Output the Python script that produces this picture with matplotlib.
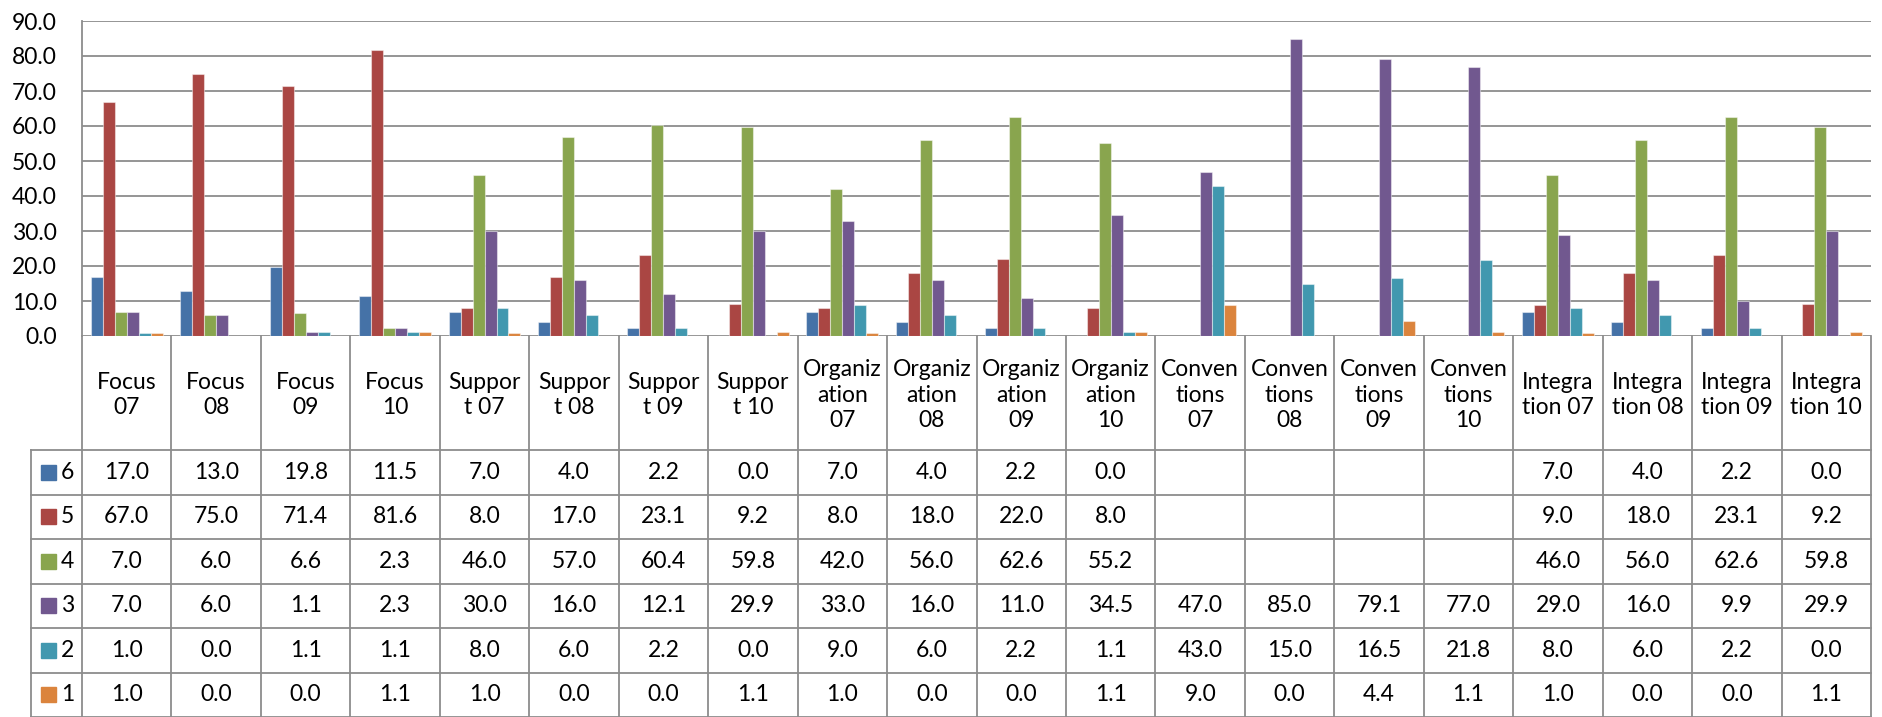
import numpy as np
import matplotlib
matplotlib.use("Agg")
from matplotlib import pyplot as plt
from matplotlib.patches import Rectangle

plt.rcParams['font.family'] = ['Lato', 'DejaVu Sans']

nan = np.nan
categories = ["Focus\n07", "Focus\n08", "Focus\n09", "Focus\n10",
              "Suppor\nt 07", "Suppor\nt 08", "Suppor\nt 09", "Suppor\nt 10",
              "Organiz\nation\n07", "Organiz\nation\n08", "Organiz\nation\n09", "Organiz\nation\n10",
              "Conven\ntions\n07", "Conven\ntions\n08", "Conven\ntions\n09", "Conven\ntions\n10",
              "Integra\ntion 07", "Integra\ntion 08", "Integra\ntion 09", "Integra\ntion 10"]
series_names = ["6", "5", "4", "3", "2", "1"]
s6 = [17.0, 13.0, 19.8, 11.5, 7.0, 4.0, 2.2, 0.0, 7.0, 4.0, 2.2, 0.0, nan, nan, nan, nan, 7.0, 4.0, 2.2, 0.0]
s5 = [67.0, 75.0, 71.4, 81.6, 8.0, 17.0, 23.1, 9.2, 8.0, 18.0, 22.0, 8.0, nan, nan, nan, nan, 9.0, 18.0, 23.1, 9.2]
s4 = [7.0, 6.0, 6.6, 2.3, 46.0, 57.0, 60.4, 59.8, 42.0, 56.0, 62.6, 55.2, nan, nan, nan, nan, 46.0, 56.0, 62.6, 59.8]
s3 = [7.0, 6.0, 1.1, 2.3, 30.0, 16.0, 12.1, 29.9, 33.0, 16.0, 11.0, 34.5, 47.0, 85.0, 79.1, 77.0, 29.0, 16.0, 9.9, 29.9]
s2 = [1.0, 0.0, 1.1, 1.1, 8.0, 6.0, 2.2, 0.0, 9.0, 6.0, 2.2, 1.1, 43.0, 15.0, 16.5, 21.8, 8.0, 6.0, 2.2, 0.0]
s1 = [1.0, 0.0, 0.0, 1.1, 1.0, 0.0, 0.0, 1.1, 1.0, 0.0, 0.0, 1.1, 9.0, 0.0, 4.4, 1.1, 1.0, 0.0, 0.0, 1.1]
series = [s6, s5, s4, s3, s2, s1]
colors = ["#4572A7", "#AA4643", "#89A54E", "#71588F", "#4198AF", "#DB843D"]

W, H = 1883, 717
grid_c = "#8c8c8c"
fs = 16.5

fig = plt.figure(figsize=(W / 100, H / 100), dpi=100)
x0, x1 = 82, 1871
y_top, y_zero = 21, 336
ax = fig.add_axes([x0 / W, (H - y_zero) / H, (x1 - x0) / W, (y_zero - y_top) / H])

x = np.arange(len(categories))
bw = 0.134
for k, (vals, c) in enumerate(zip(series, colors)):
    ax.bar(x + (k - 2.5) * bw, vals, width=bw, color=c,
           edgecolor=(1, 1, 1, 0.45), linewidth=0.8, zorder=3)

ax.set_xlim(-0.5, len(categories) - 0.5)
ax.set_ylim(0, 90)
ax.set_yticks(np.arange(0, 91, 10))
ax.set_yticklabels([f"{v:.1f}" for v in np.arange(0, 91, 10)], fontsize=fs)
ax.tick_params(axis='y', length=0, pad=18)
ax.set_xticks([])
ax.grid(axis='y', color=grid_c, linewidth=1.3, zorder=0)
for side in ["top", "right", "bottom"]:
    ax.spines[side].set_visible(False)
ax.spines["left"].set_color(grid_c)
ax.spines["left"].set_linewidth(1.3)

# data table underneath, y in pixels measured down from the zero line
tab = fig.add_axes([x0 / W, 0, (x1 - x0) / W, (H - y_zero) / H])
tab.set_xlim(-0.5, len(categories) - 0.5)
tab.set_ylim(H - y_zero, 0)
tab.axis("off")

head_h = 114
row_h = 44.5
bottom = H - y_zero
leg_left = -0.5 - (x0 - 31) / 89.45
lk = dict(color=grid_c, linewidth=1.3, clip_on=False)

for i in range(len(categories) + 1):
    tab.plot([i - 0.5, i - 0.5], [0, bottom], **lk)
tab.plot([leg_left, leg_left], [head_h, bottom], **lk)
for r in range(len(series) + 1):
    yy = head_h + r * row_h
    tab.plot([leg_left, len(categories) - 0.5], [yy, yy], **lk)

for i, cat in enumerate(categories):
    tab.text(i, head_h / 2 + 2, cat, ha="center", va="center",
             fontsize=fs, linespacing=1.25)

for r, (name, vals, c) in enumerate(zip(series_names, series, colors)):
    yc = head_h + (r + 0.5) * row_h
    tab.add_patch(Rectangle((-0.5 - 41 / 89.45, yc - 7.5), 15 / 89.45, 15,
                            color=c, clip_on=False))
    tab.text(-0.5 - 21 / 89.45, yc, name, ha="left", va="center", fontsize=fs)
    for i, v in enumerate(vals):
        if not np.isnan(v):
            tab.text(i, yc, f"{v:.1f}", ha="center", va="center", fontsize=fs)

fig.savefig("out.png", dpi=100)
